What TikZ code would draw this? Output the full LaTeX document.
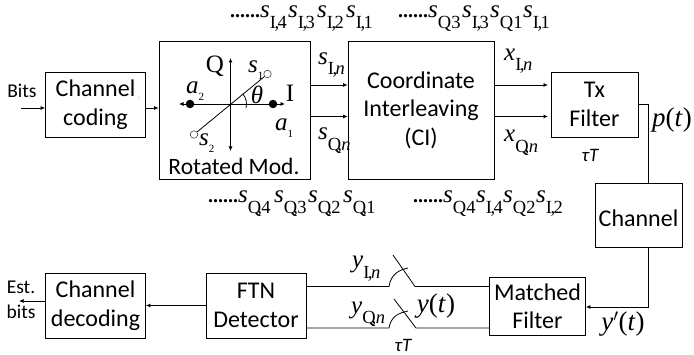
\documentclass[tikz,border=0pt]{standalone}
\usepackage{fontspec}
\setmainfont{Carlito}
\newfontfamily\timesfont{Liberation Serif}
\usetikzlibrary{arrows.meta}
\newcommand{\seqsym}[2]{{\timesfont\itshape\fontsize{25}{25}\selectfont #1}\raisebox{-10.5pt}{\timesfont\fontsize{18.5}{18.5}\selectfont #2}}
\newcommand{\smallsym}[2]{{\timesfont\itshape\fontsize{25}{25}\selectfont #1}\raisebox{-7pt}{\timesfont\fontsize{11}{11}\selectfont #2}}
\newcommand{\symcomma}{\kern-1.5pt,\kern-1.5pt}
\newcommand{\qcomma}{\kern-4pt,\kern-.5pt}
\tikzset{
  blk/.style 2 args={draw, line width=.8pt, inner sep=0pt, minimum width=#1, minimum height=#2, align=center, font=\fontsize{24}{28.5}\selectfont, execute at begin node={\rule{0pt}{22.5pt}}},
  symb/.style={anchor=base west, inner sep=0pt},
  plain/.style={inner sep=0pt, align=center},
  mathlab/.style={inner sep=0pt, font=\timesfont\itshape\fontsize{27}{27}\selectfont},
  rmlab/.style={inner sep=0pt, font=\timesfont\fontsize{25}{25}\selectfont},
  dotrow/.style={anchor=base west, inner sep=0pt, font=\timesfont\bfseries\fontsize{20}{20}\selectfont},
  conn/.style={line width=.8pt, -{Latex[length=4.5pt,width=4pt]}},
  wire/.style={line width=.8pt}
}

\begin{document}
\begin{tikzpicture}[x=1pt, y=-1pt]
  \useasboundingbox (0, 0) rectangle (694, 355);
  % blocks
  \node[blk={100pt}{65pt}] (coding) at (95.5, 104.5) {Channel\\coding};
  \node[blk={151pt}{138pt}] (rotmod) at (234.5, 110) {};
  \node[blk={146pt}{138pt}] (ci) at (421, 110) {Coordinate\\Interleaving\\(CI)};
  \node[blk={87pt}{65pt}] (tx) at (594.5, 104.5) {Tx\\Filter};
  \node[blk={87pt}{64pt}] (channel) at (638.5, 215) {Channel};
  \node[blk={96pt}{58pt}] (matched) at (537.5, 306.5) {Matched\\Filter};
  \node[blk={100pt}{65pt}] (ftn) at (256, 305.5) {FTN\\Detector};
  \node[blk={100pt}{65pt}] (decoding) at (95.5, 305.5) {Channel\\decoding};

  % free ends and rows
  \coordinate (bitsin) at (21, 108);
  \coordinate (estout) at (19, 301);
  \coordinate (rowA) at (0, 85);
  \coordinate (rowB) at (0, 116.5);
  \coordinate (rowC) at (0, 286.5);
  \coordinate (rowD) at (0, 328);
  \coordinate (elbowT) at (648.5, 104);
  \coordinate (elbowR) at (648.5, 307);
  \coordinate (txA) at (548, 85);
  \coordinate (txB) at (548, 116.5);

  \draw[conn] (bitsin) -- (coding.west |- bitsin);
  \draw[conn] (coding.east |- bitsin) -- (rotmod.west |- bitsin);
  \draw[conn] (rotmod.east |- rowA) -- (ci.west |- rowA);
  \draw[conn] (rotmod.east |- rowB) -- (ci.west |- rowB);
  \draw[conn] (ci.east |- rowA) -- (txA);
  \draw[conn] (ci.east |- rowB) -- (txB);
  \draw[wire] (tx.east |- elbowT) -- (elbowT) -- (elbowT |- channel.north);
  \draw[conn] (elbowR |- channel.south) -- (elbowR) -- (matched.east |- elbowR);
  \draw[conn] (ftn.west) -- (decoding.east);
  \draw[conn] (decoding.west |- estout) -- (estout);

  % sampling switches
  \coordinate (swAa) at (389, 286.5);
  \coordinate (swAb) at (408, 268);
  \coordinate (swAc) at (393, 255);
  \coordinate (swAd) at (415, 286.5);
  \coordinate (swBa) at (389, 328);
  \coordinate (swBb) at (408, 311);
  \coordinate (swBc) at (394, 299);
  \coordinate (swBd) at (416, 328);
  \draw[wire] (ftn.east |- rowC) -- (swAa) .. controls (391, 274) and (399, 270) .. (swAb);
  \draw[wire] (swAc) -- (swAd) -- (matched.west |- rowC);
  \draw[wire] (ftn.east |- rowD) -- (swBa) .. controls (391, 316) and (399, 313) .. (swBb);
  \draw[wire] (swBc) -- (swBd) -- (matched.west |- rowD);

  % constellation
  \coordinate (origin) at (230.5, 104);
  \coordinate (axisT) at (230.5, 58);
  \coordinate (axisB) at (230.5, 151);
  \coordinate (axisL) at (179, 104);
  \coordinate (axisR) at (285, 104);
  \node[draw, circle, fill=white, inner sep=0pt, minimum size=7.5pt] (s1pt) at (267.5, 74) {};
  \node[draw, circle, fill=white, inner sep=0pt, minimum size=7.5pt] (s2pt) at (194, 134.5) {};
  \node[circle, fill=black, inner sep=0pt, minimum size=8.5pt] (a2pt) at (190, 104) {};
  \node[circle, fill=black, inner sep=0pt, minimum size=8.5pt] (a1pt) at (273, 104) {};
  \draw[conn, {Latex[length=4.5pt,width=4pt]}-{Latex[length=4.5pt,width=4pt]}] (axisB) -- (axisT);
  \draw[conn, {Latex[length=4.5pt,width=4pt]}-{Latex[length=4.5pt,width=4pt]}] (axisL) -- (axisR);
  \draw[wire] (s2pt) -- (s1pt);
  \draw[wire] (origin) ++(-15:16pt) arc[start angle=-15, end angle=40, radius=16pt];

  \node[rmlab] (Qlab) at (215, 66) {Q};
  \node[rmlab] (Ilab) at (290, 93) {I};
  \node[mathlab, font=\timesfont\itshape\fontsize{25}{25}\selectfont] (thetalab) at (257, 95) {θ};
  \node[symb] (s1lab) at (248, 73) {\smallsym{s}{1}};
  \node[symb] (s2lab) at (199, 146) {\smallsym{s}{2}};
  \node[symb] (a2lab) at (186, 94) {\smallsym{a}{2}};
  \node[symb] (a1lab) at (275, 131) {\smallsym{a}{1}};
  \node[plain, font=\fontsize{23.5}{28}\selectfont] (rotlab) at (234, 166.5) {Rotated Mod.};

  % symbol streams
  \node[dotrow] (dotsA) at (230, 18) {......};
  \foreach \x/\k in {260/4, 288/3, 317/2, 346/1}
    \node[symb] (topI\k) at (\x, 18) {\seqsym{s}{I\symcomma\k}};
  \node[dotrow] (dotsB) at (398, 18) {......};
  \foreach \x/\sub/\k in {428/Q3/a, 490/Q1/b}
    \node[symb] (topQ\k) at (\x, 18) {\seqsym{s}{\sub}};
  \foreach \x/\k in {462/3, 523/1}
    \node[symb] (topC\k) at (\x, 18) {\seqsym{s}{I\symcomma\k}};
  \node[dotrow] (dotsC) at (208, 203) {......};
  \foreach \x/\k in {238/4, 274/3, 308/2, 343/1}
    \node[symb] (botQ\k) at (\x, 203) {\seqsym{s}{Q\qcomma\k}};
  \node[dotrow] (dotsD) at (413, 203) {......};
  \foreach \x/\k in {443/4, 503/2}
    \node[symb] (botR\k) at (\x, 203) {\seqsym{s}{Q\k}};
  \foreach \x/\k in {476/4, 536/2}
    \node[symb] (botS\k) at (\x, 203) {\seqsym{s}{I\symcomma\k}};

  % signal labels
  \node[symb] (sIlab) at (318, 64.5) {\seqsym{s}{I\symcomma\textit{n}}};
  \node[symb] (sQlab) at (318, 140) {\seqsym{s}{Q\qcomma\textit{n}}};
  \node[symb] (xIlab) at (504, 60.5) {\seqsym{x}{I\symcomma\textit{n}}};
  \node[symb] (xQlab) at (504, 142) {\seqsym{x}{Q\qcomma\textit{n}}};
  \node[symb] (yIlab) at (352, 268) {\seqsym{y}{I\symcomma\textit{n}}};
  \node[symb] (yQlab) at (351, 313.5) {\seqsym{y}{Q\qcomma\textit{n}}};
  \node[mathlab] (ptlab) at (672, 120) {p\textup{(}t\textup{)}};
  \node[mathlab] (ytlab) at (436, 306) {y\textup{(}t\textup{)}};
  \node[mathlab] (ydlab) at (623, 324) {y\textup{$'$(}t\textup{)}};
  \node[plain, font=\itshape\fontsize{19}{19}\selectfont] (tauA) at (590, 155) {τT};
  \node[plain, font=\itshape\fontsize{19}{19}\selectfont] (tauB) at (403, 345) {τT};
  \node[plain, font=\fontsize{19.5}{19.5}\selectfont] (bitslab) at (22, 91) {Bits};
  \node[plain, font=\fontsize{19.5}{24.5}\selectfont] (estlab) at (21, 300) {Est.\\bits};
  \node[plain, text=black!25, font=\fontsize{5}{5}\selectfont] (speck) at (139, 98) {1};
\end{tikzpicture}
\end{document}
